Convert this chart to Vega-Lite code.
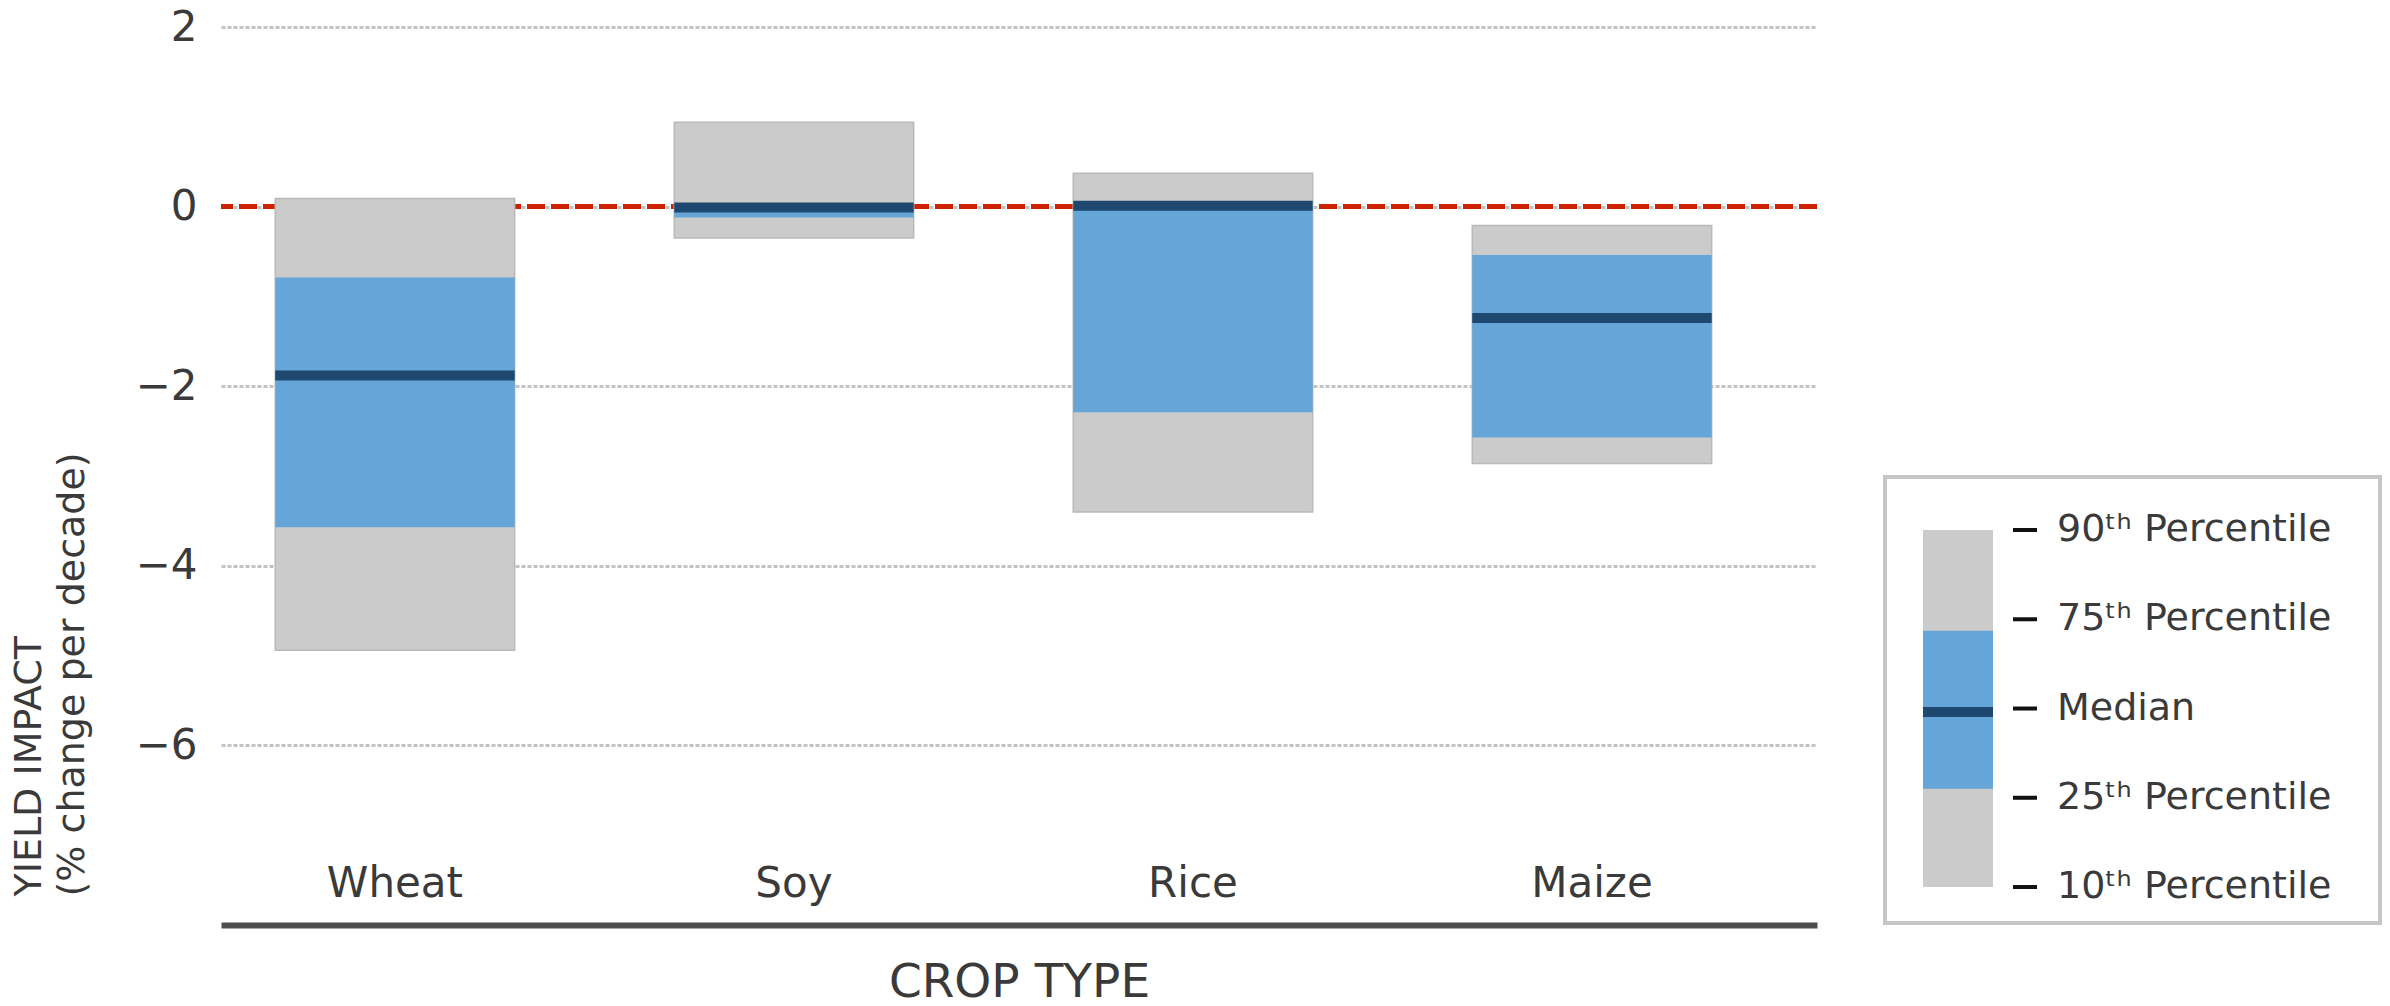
{
  "$schema": "https://vega.github.io/schema/vega-lite/v6.json",
  "padding": {"left": 10, "top": 6, "right": 9, "bottom": 20},
  "background": "white",
  "config": {
    "font": "DejaVu Sans",
    "view": {"stroke": null},
    "axis": {"labelFont": "DejaVu Sans", "titleFont": "DejaVu Sans", "labelColor": "#3a3a3a", "titleColor": "#3a3a3a", "titleFontWeight": "normal"}
  },
  "datasets": {
    "crops": [
      {"crop": "Wheat", "p10": -4.94, "p25": -3.57, "median": -1.88, "p75": -0.79, "p90": 0.09},
      {"crop": "Soy", "p10": -0.35, "p25": -0.12, "median": -0.01, "p75": 0.02, "p90": 0.94},
      {"crop": "Rice", "p10": -3.40, "p25": -2.29, "median": 0.01, "p75": 0.01, "p90": 0.37},
      {"crop": "Maize", "p10": -2.86, "p25": -2.57, "median": -1.24, "p75": -0.54, "p90": -0.21}
    ],
    "reference": [{"baseline": 0}],
    "legendBands": [
      {"part": "swatch", "band": "outer", "lo": 0, "hi": 4},
      {"part": "swatch", "band": "inner", "lo": 1.1, "hi": 2.87}
    ],
    "legendMedian": [{"part": "swatch", "rank": 1.96}],
    "legendLabels": [
      {"part": "tick", "rank": 4, "label": "90ᵗʰ Percentile"},
      {"part": "tick", "rank": 3, "label": "75ᵗʰ Percentile"},
      {"part": "tick", "rank": 2, "label": "Median"},
      {"part": "tick", "rank": 1, "label": "25ᵗʰ Percentile"},
      {"part": "tick", "rank": 0, "label": "10ᵗʰ Percentile"}
    ]
  },
  "spacing": 63,
  "hconcat": [
    {
      "width": 1596,
      "height": 898,
      "layer": [
        {
          "data": {"name": "reference"},
          "mark": {"type": "rule", "color": "#cc2200", "strokeWidth": 5, "strokeDash": [18, 6]},
          "encoding": {
            "y": {
              "field": "baseline", "type": "quantitative",
              "scale": {"domain": [-8, 2], "nice": false, "zero": false},
              "axis": {
                "values": [-6, -4, -2, 0, 2], "format": "d",
                "domain": false, "ticks": false, "tickSize": 0,
                "labelFontSize": 42, "labelPadding": 24,
                "grid": true, "gridColor": "#c3c3c3", "gridWidth": 3, "gridDash": [4, 2],
                "title": ["YIELD IMPACT", "(% change per decade)"],
                "titleFontSize": 38, "titleLineHeight": 43,
                "titlePadding": 44, "titleAnchor": "start", "titleAlign": "left", "titleY": 869
              }
            }
          }
        },
        {
          "data": {"name": "crops"},
          "mark": {"type": "bar", "color": "#cbcbcb", "stroke": "#b9b9b9", "strokeWidth": 1.5},
          "encoding": {
            "x": {
              "field": "crop", "type": "nominal", "sort": null,
              "scale": {"type": "band", "paddingInner": 0.4, "paddingOuter": 0.2, "align": 0.34},
              "axis": {
                "domain": true, "domainColor": "#4d4d4d", "domainWidth": 6,
                "ticks": false, "tickSize": 0, "grid": false,
                "labelAngle": 0, "labelFontSize": 42, "labelBaseline": "middle", "labelPadding": -42,
                "title": "CROP TYPE", "titleFontSize": 47, "titlePadding": 34
              }
            },
            "y": {"field": "p10", "type": "quantitative"},
            "y2": {"field": "p90"}
          }
        },
        {
          "data": {"name": "crops"},
          "mark": {"type": "bar", "color": "#65a5d7"},
          "encoding": {
            "x": {"field": "crop", "type": "nominal", "sort": null},
            "y": {"field": "p25", "type": "quantitative"},
            "y2": {"field": "p75"}
          }
        },
        {
          "data": {"name": "crops"},
          "mark": {"type": "tick", "color": "#1e486f", "thickness": 10, "size": 239.4, "opacity": 1},
          "encoding": {
            "x": {"field": "crop", "type": "nominal", "sort": null},
            "y": {"field": "median", "type": "quantitative"}
          }
        }
      ]
    },
    {
      "spacing": 0,
      "vconcat": [
        {
          "width": 495,
          "height": 448,
          "data": {"values": []},
          "mark": "rect",
          "encoding": {},
          "view": {"stroke": null}
        },
        {
          "width": 495,
          "height": 446,
          "view": {"stroke": "#c6c6c6", "strokeWidth": 4},
          "resolve": {"scale": {"x": "independent"}},
          "layer": [
            {
              "data": {"name": "legendBands"},
              "mark": {"type": "bar", "width": 70},
              "encoding": {
                "x": {"field": "part", "type": "nominal", "scale": {"type": "point", "domain": ["swatch"], "align": 0.1475}, "axis": null},
                "y": {"field": "lo", "type": "quantitative", "scale": {"domain": [-0.403, 4.594], "nice": false, "zero": false}, "axis": null},
                "y2": {"field": "hi"},
                "color": {"field": "band", "type": "nominal", "scale": {"domain": ["outer", "inner"], "range": ["#cbcbcb", "#65a5d7"]}, "legend": null}
              }
            },
            {
              "data": {"name": "legendMedian"},
              "mark": {"type": "tick", "color": "#1e486f", "thickness": 10, "size": 70, "opacity": 1},
              "encoding": {
                "x": {"field": "part", "type": "nominal", "scale": {"type": "point", "domain": ["swatch"], "align": 0.1475}, "axis": null},
                "y": {"field": "rank", "type": "quantitative", "axis": null}
              }
            },
            {
              "data": {"name": "legendLabels"},
              "mark": {"type": "tick", "color": "#111111", "thickness": 4, "size": 24, "opacity": 1},
              "encoding": {
                "x": {"field": "part", "type": "nominal", "scale": {"type": "point", "domain": ["tick"], "align": 0.2828}, "axis": null},
                "y": {"field": "rank", "type": "quantitative", "axis": null}
              }
            },
            {
              "data": {"name": "legendLabels"},
              "mark": {"type": "text", "align": "left", "baseline": "middle", "dx": 32, "fontSize": 38, "color": "#3a3a3a", "font": "DejaVu Sans"},
              "encoding": {
                "x": {"field": "part", "type": "nominal", "scale": {"type": "point", "domain": ["tick"], "align": 0.2828}, "axis": null},
                "y": {"field": "rank", "type": "quantitative", "axis": null},
                "text": {"field": "label"}
              }
            }
          ]
        }
      ]
    }
  ]
}
